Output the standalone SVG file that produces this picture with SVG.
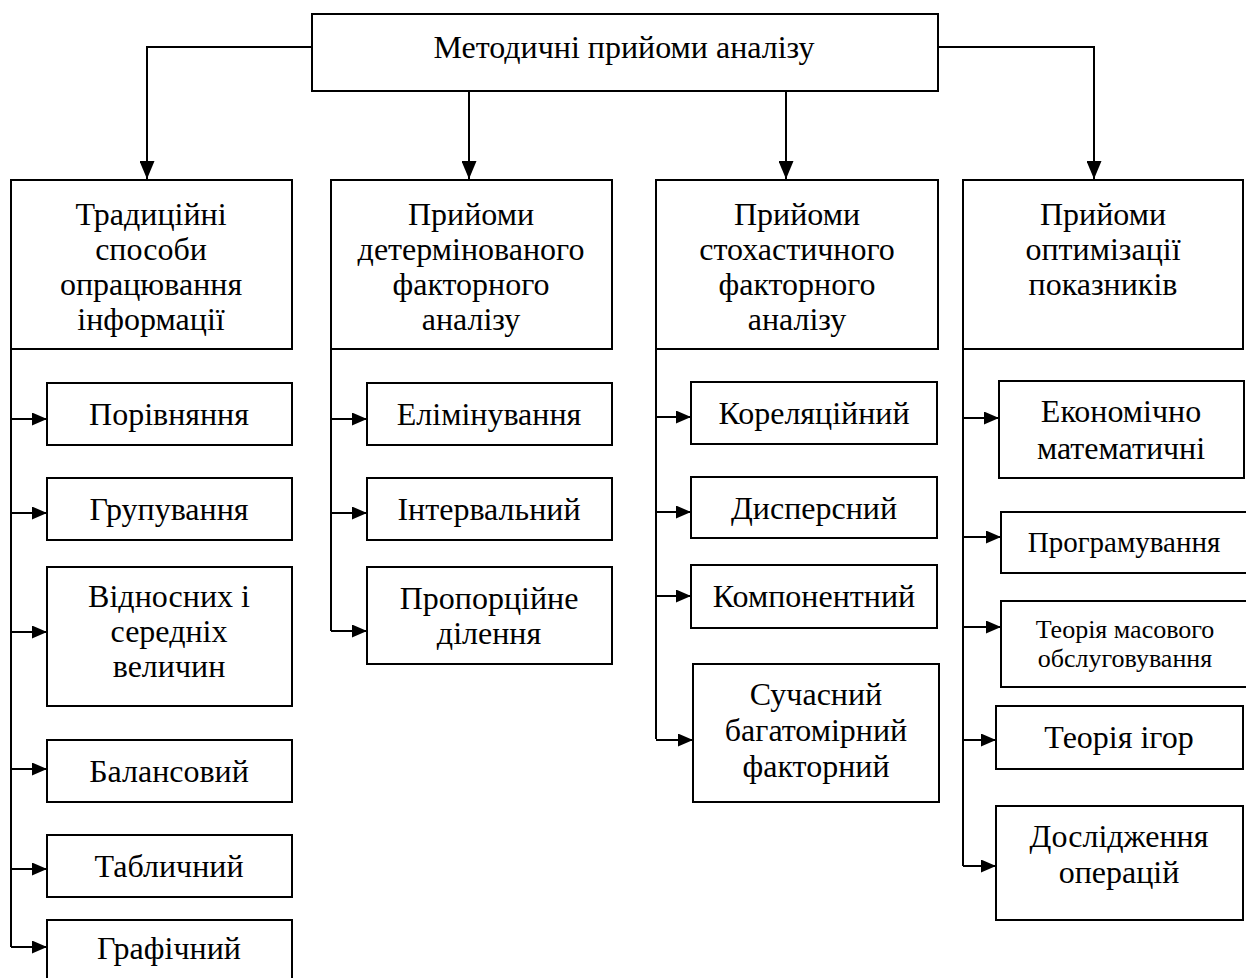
<svg xmlns="http://www.w3.org/2000/svg" width="1246" height="978" viewBox="0 0 1246 978">
<style>
.n{fill:#fff;stroke:#000;stroke-width:2}
text{font-family:'Liberation Serif','Times New Roman','DejaVu Serif',serif;font-size:32px;fill:#000;text-anchor:middle}
.sm{font-size:26px}
.md{font-size:29px}
#connectors path{fill:none;stroke:#000;stroke-width:2}
</style>
<defs>
<marker id="ah" markerUnits="userSpaceOnUse" markerWidth="15" markerHeight="13" refX="15" refY="6.5" orient="auto">
<path d="M0,0 L15,6.5 L0,13 z" fill="#000"/>
</marker>
<marker id="ahv" markerUnits="userSpaceOnUse" markerWidth="18" markerHeight="15" refX="18" refY="7.5" orient="auto">
<path d="M0,0 L18,7.5 L0,15 z" fill="#000"/>
</marker>
</defs>
<rect width="1246" height="978" fill="#fff"/>
<g id="connectors">
<path d="M312,47 H147 V179" marker-end="url(#ahv)"/>
<path d="M938,47 H1094 V179" marker-end="url(#ahv)"/>
<path d="M469,91 V179" marker-end="url(#ahv)"/>
<path d="M786,91 V179" marker-end="url(#ahv)"/>
<path d="M11,349 V947"/>
<path d="M11,419 H47" marker-end="url(#ah)"/>
<path d="M11,513 H47" marker-end="url(#ah)"/>
<path d="M11,632 H47" marker-end="url(#ah)"/>
<path d="M11,769 H47" marker-end="url(#ah)"/>
<path d="M11,869 H47" marker-end="url(#ah)"/>
<path d="M11,947 H47" marker-end="url(#ah)"/>
<path d="M331,349 V631"/>
<path d="M331,419 H367" marker-end="url(#ah)"/>
<path d="M331,513 H367" marker-end="url(#ah)"/>
<path d="M331,631 H367" marker-end="url(#ah)"/>
<path d="M656,349 V739"/>
<path d="M656,417 H691" marker-end="url(#ah)"/>
<path d="M656,512 H691" marker-end="url(#ah)"/>
<path d="M656,596 H691" marker-end="url(#ah)"/>
<path d="M656,740 H693" marker-end="url(#ah)"/>
<path d="M963,349 V866"/>
<path d="M963,418 H999" marker-end="url(#ah)"/>
<path d="M963,537 H1001" marker-end="url(#ah)"/>
<path d="M963,627 H1001" marker-end="url(#ah)"/>
<path d="M963,740 H996" marker-end="url(#ah)"/>
<path d="M963,866 H996" marker-end="url(#ah)"/>
</g>
<g id="root"><rect class="n" x="312" y="14" width="626" height="77"/><text x="624" y="58">Методичні прийоми аналізу</text></g>
<g id="col1"><rect class="n" x="11" y="180" width="281" height="169"/><text x="151"><tspan x="151" y="225">Традиційні</tspan><tspan x="151" y="260">способи</tspan><tspan x="151" y="295">опрацювання</tspan><tspan x="151" y="330">інформації</tspan></text></g>
<g id="col2"><rect class="n" x="331" y="180" width="281" height="169"/><text x="471"><tspan x="471" y="225">Прийоми</tspan><tspan x="471" y="260">детермінованого</tspan><tspan x="471" y="295">факторного</tspan><tspan x="471" y="330">аналізу</tspan></text></g>
<g id="col3"><rect class="n" x="656" y="180" width="282" height="169"/><text x="797"><tspan x="797" y="225">Прийоми</tspan><tspan x="797" y="260">стохастичного</tspan><tspan x="797" y="295">факторного</tspan><tspan x="797" y="330">аналізу</tspan></text></g>
<g id="col4"><rect class="n" x="963" y="180" width="280" height="169"/><text x="1103"><tspan x="1103" y="225">Прийоми</tspan><tspan x="1103" y="260">оптимізації</tspan><tspan x="1103" y="295">показників</tspan></text></g>
<g id="c1a"><rect class="n" x="47" y="383" width="245" height="62"/><text x="169" y="425">Порівняння</text></g>
<g id="c1b"><rect class="n" x="47" y="478" width="245" height="62"/><text x="169" y="520">Групування</text></g>
<g id="c1c"><rect class="n" x="47" y="567" width="245" height="139"/><text x="169"><tspan x="169" y="607">Відносних і</tspan><tspan x="169" y="642">середніх</tspan><tspan x="169" y="677">величин</tspan></text></g>
<g id="c1d"><rect class="n" x="47" y="740" width="245" height="62"/><text x="169" y="782">Балансовий</text></g>
<g id="c1e"><rect class="n" x="47" y="835" width="245" height="62"/><text x="169" y="877">Табличний</text></g>
<g id="c1f"><rect class="n" x="47" y="920" width="245" height="70"/><text x="169" y="959">Графічний</text></g>
<g id="c2a"><rect class="n" x="367" y="383" width="245" height="62"/><text x="489" y="425">Елімінування</text></g>
<g id="c2b"><rect class="n" x="367" y="478" width="245" height="62"/><text x="489" y="520">Інтервальний</text></g>
<g id="c2c"><rect class="n" x="367" y="567" width="245" height="97"/><text x="489"><tspan x="489" y="609">Пропорційне</tspan><tspan x="489" y="644">ділення</tspan></text></g>
<g id="c3a"><rect class="n" x="691" y="382" width="246" height="62"/><text x="814" y="424">Кореляційний</text></g>
<g id="c3b"><rect class="n" x="691" y="477" width="246" height="61"/><text x="814" y="519">Дисперсний</text></g>
<g id="c3c"><rect class="n" x="691" y="565" width="246" height="63"/><text x="814" y="607">Компонентний</text></g>
<g id="c3d"><rect class="n" x="693" y="664" width="246" height="138"/><text x="816"><tspan x="816" y="705">Сучасний</tspan><tspan x="816" y="741">багатомірний</tspan><tspan x="816" y="777">факторний</tspan></text></g>
<g id="c4a"><rect class="n" x="999" y="381" width="245" height="97"/><text x="1121"><tspan x="1121" y="422">Економічно</tspan><tspan x="1121" y="459">математичні</tspan></text></g>
<g id="c4b"><rect class="n" x="1001" y="512" width="246" height="61"/><text class="md" x="1124" y="552">Програмування</text></g>
<g id="c4c"><rect class="n" x="1001" y="601" width="246" height="86"/><text class="sm" x="1125"><tspan x="1125" y="638">Теорія масового</tspan><tspan x="1125" y="667">обслуговування</tspan></text></g>
<g id="c4d"><rect class="n" x="996" y="706" width="247" height="63"/><text x="1119" y="748">Теорія ігор</text></g>
<g id="c4e"><rect class="n" x="996" y="806" width="247" height="114"/><text x="1119"><tspan x="1119" y="847">Дослідження</tspan><tspan x="1119" y="883">операцій</tspan></text></g>
</svg>
